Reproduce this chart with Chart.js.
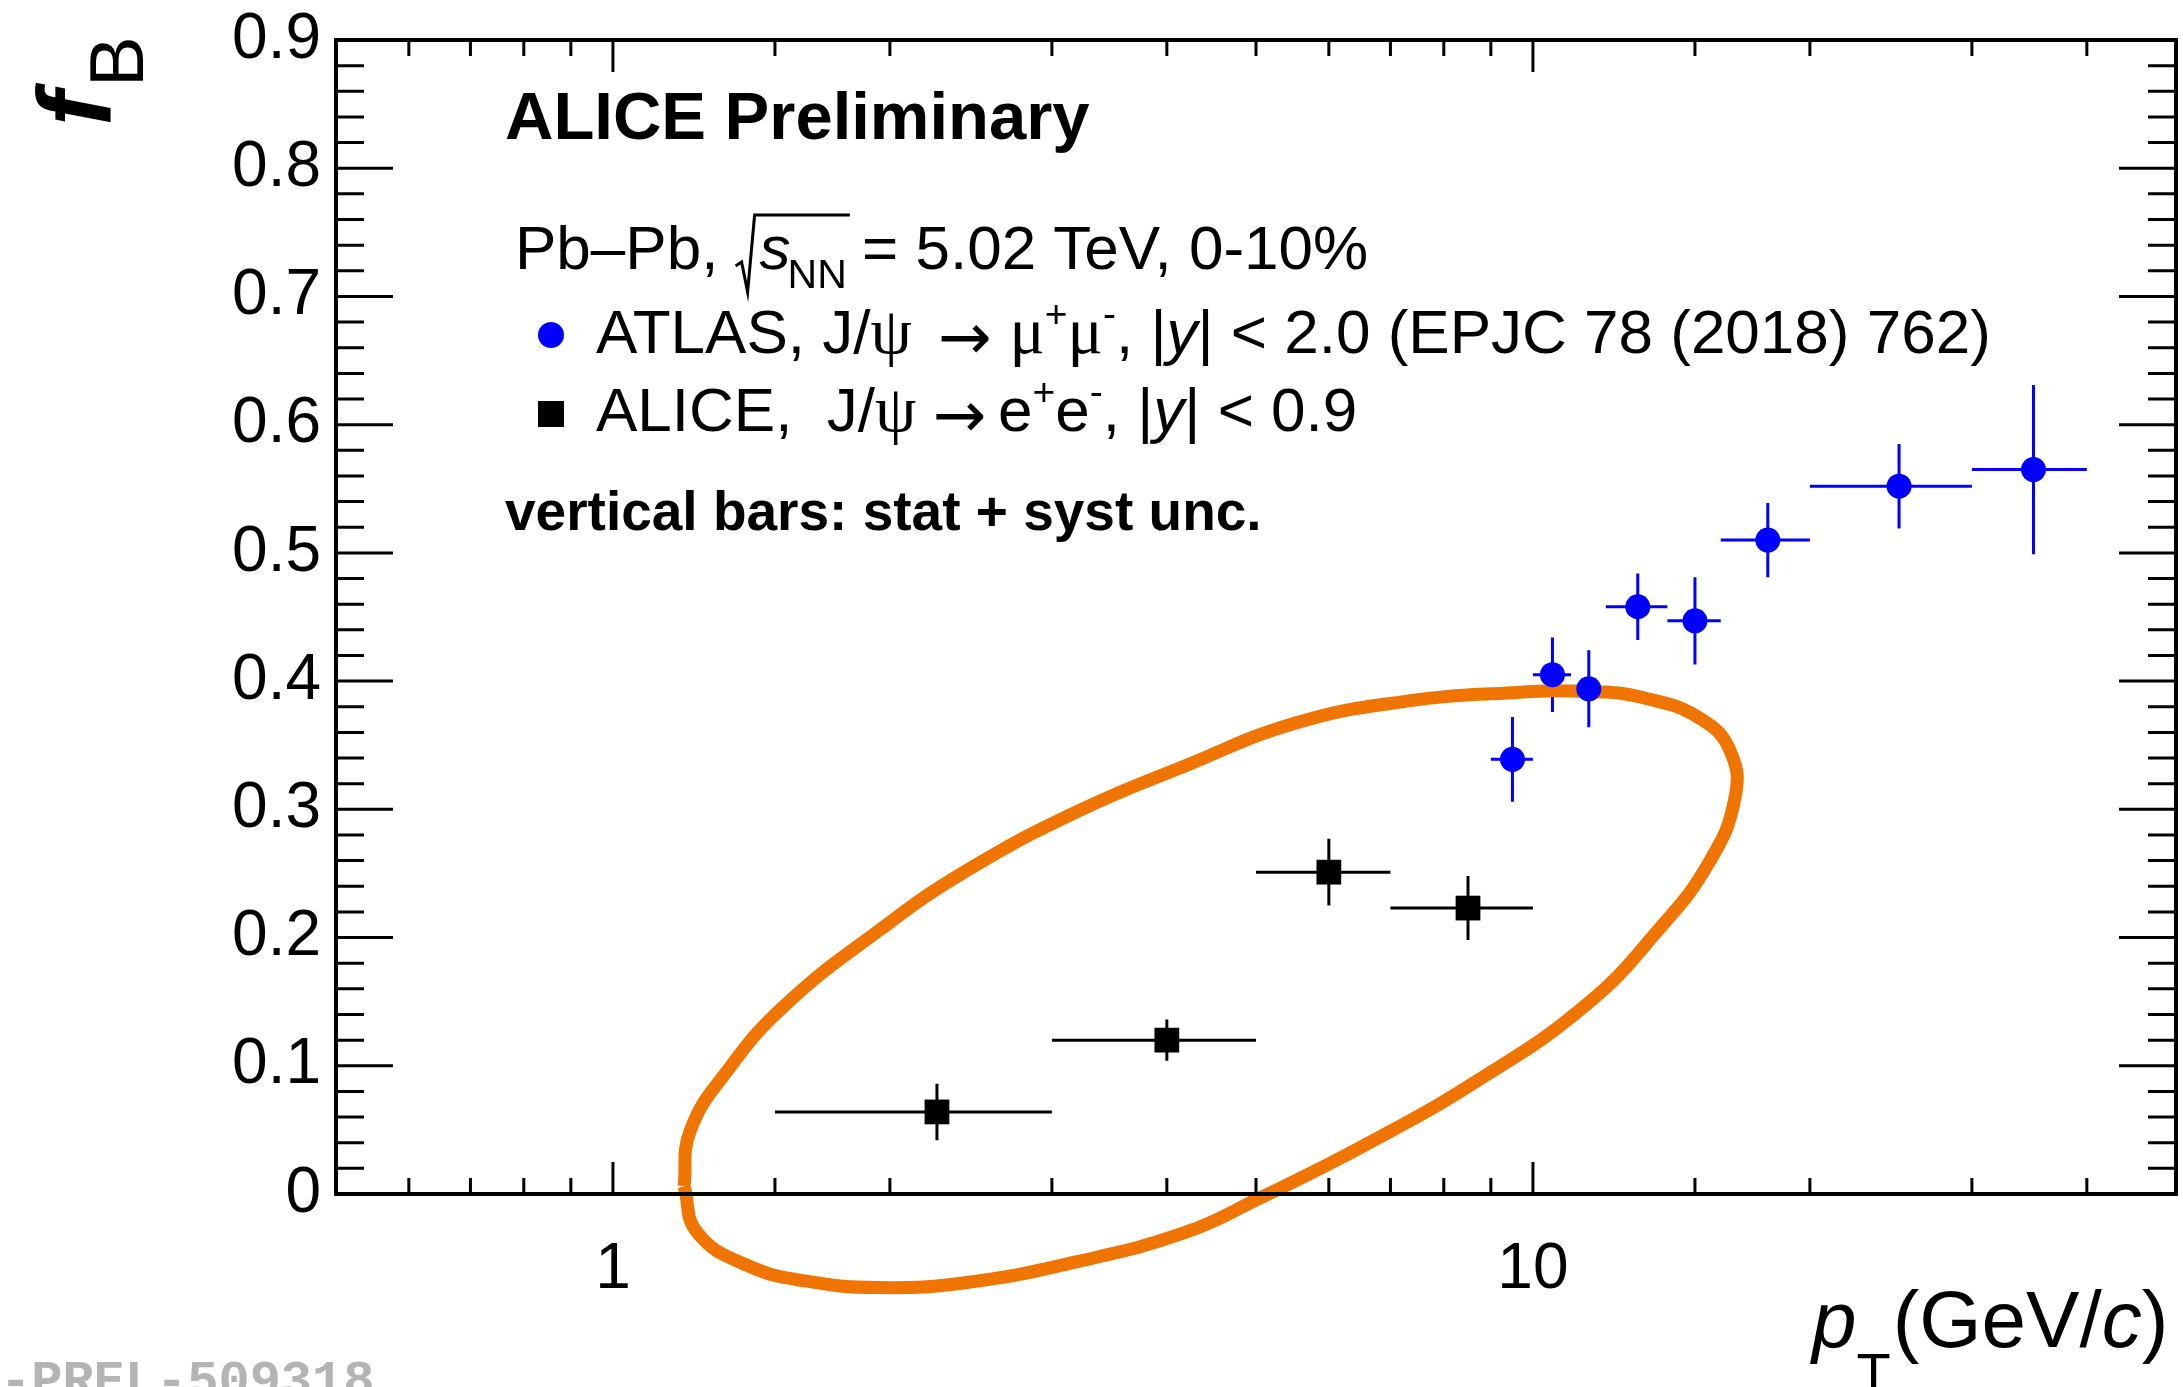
<!DOCTYPE html>
<html lang="en">
<head>
<meta charset="UTF-8">
<title>fB vs pT</title>
<style>
  html, body { margin: 0; padding: 0; background: #fff; }
  #fbChart { display: block; }
</style>
</head>
<body>
<canvas id="fbChart" width="2183" height="1387"></canvas>
<script src="https://cdn.jsdelivr.net/npm/chart.js@4.4.1/dist/chart.umd.min.js"></script>
<script>
  // ATLAS, J/psi -> mu+mu-, |y| < 2.0
  const atlasPt = [9.5, 10.5, 11.5, 13, 15, 18, 25, 35];
  const atlasPtLow = [9, 10, 11, 12, 14, 16, 20, 30];
  const atlasPtHigh = [10, 11, 12, 14, 16, 20, 30, 40];
  const atlasFb = [0.339, 0.405, 0.394, 0.458, 0.447, 0.510, 0.552, 0.565];
  const atlasErr = [0.033, 0.029, 0.030, 0.026, 0.034, 0.029, 0.033, 0.066];

  // ALICE, J/psi -> e+e-, |y| < 0.9
  const alicePt = [2.25, 4, 6, 8.5];
  const alicePtLow = [1.5, 3, 5, 7];
  const alicePtHigh = [3, 5, 7, 10];
  const aliceFb = [0.064, 0.120, 0.251, 0.223];
  const aliceErr = [0.022, 0.016, 0.026, 0.025];

  // hand drawn orange loop
  const loopPt = [1.195, 1.235, 1.403, 1.623, 1.947, 2.424, 3.185, 4.187, 5.02, 6.60, 8.68, 11.4,
    13.69, 15.55, 16.57, 16.42, 15.26, 13.19, 11.40, 9.50, 7.23, 5.50, 4.19, 3.19, 2.42, 1.95,
    1.537, 1.328, 1.213, 1.195];
  const loopFb = [0.006, -0.030, -0.056, -0.068, -0.073, -0.069, -0.053, -0.030, -0.004, 0.039, 0.088, 0.147,
    0.206, 0.259, 0.308, 0.344, 0.370, 0.387, 0.392, 0.391, 0.384, 0.367, 0.334, 0.298, 0.252, 0.206,
    0.147, 0.095, 0.049, 0.006];

  const xLabels = [1, 10];
  const yMinorStep = 0.02;

  const SANS = '"Liberation Sans", Arial, sans-serif';
  const SERIF = '"Liberation Serif", "Times New Roman", serif';
  const BLUE = '#0000ff';
  const ORANGE = '#f07400';

  function font(size, style, family) {
    return (style ? style + ' ' : '') + size + 'px ' + (family || SANS);
  }

  function toPoints(xs, ys) {
    return xs.map((v, i) => ({x: v, y: ys[i]}));
  }

  // draw a row of text pieces, each with its own font and baseline shift
  function drawRuns(ctx, x, y, runs) {
    runs.forEach((r) => {
      ctx.font = r.f;
      ctx.fillText(r.t, x, y + (r.dy || 0));
      x += ctx.measureText(r.t).width + (r.gap || 0);
    });
    return x;
  }

  function noPadding(s) {
    s.paddingTop = 0;
    s.paddingBottom = 0;
    s.paddingLeft = 0;
    s.paddingRight = 0;
  }

  const errorBars = {
    id: 'errorBars',
    beforeDatasetsDraw(chart) {
      const {ctx, scales: {x, y}} = chart;
      ctx.save();
      ctx.lineWidth = 3;
      chart.data.datasets.forEach((ds) => {
        if (!ds.xLow) return;
        ctx.strokeStyle = ds.backgroundColor;
        ds.data.forEach((p, i) => {
          const px = x.getPixelForValue(p.x);
          const py = y.getPixelForValue(p.y);
          ctx.beginPath();
          ctx.moveTo(x.getPixelForValue(ds.xLow[i]), py);
          ctx.lineTo(x.getPixelForValue(ds.xHigh[i]), py);
          ctx.moveTo(px, y.getPixelForValue(p.y - ds.yErr[i]));
          ctx.lineTo(px, y.getPixelForValue(p.y + ds.yErr[i]));
          ctx.stroke();
        });
      });
      ctx.restore();
    }
  };

  // ROOT style frame with inward ticks on all four sides
  const frame = {
    id: 'frame',
    afterDraw(chart) {
      const {ctx, chartArea: a, scales: {x, y}} = chart;
      ctx.save();
      ctx.strokeStyle = '#000';
      ctx.lineWidth = 3;
      ctx.beginPath();
      x.ticks.forEach((t) => {
        const v = t.value;
        if (v <= x.min * 1.0001 || v >= x.max * 0.9999) return;
        const px = x.getPixelForValue(v);
        const len = xLabels.some((l) => Math.abs(l - v) < 1e-6) ? 32 : 16;
        ctx.moveTo(px, a.bottom); ctx.lineTo(px, a.bottom - len);
        ctx.moveTo(px, a.top); ctx.lineTo(px, a.top + len);
      });
      const n = Math.round((y.max - y.min) / yMinorStep);
      for (let i = 1; i < n; i++) {
        const py = y.getPixelForValue(y.min + i * yMinorStep);
        const len = i % 5 === 0 ? 57 : 28;
        ctx.moveTo(a.left, py); ctx.lineTo(a.left + len, py);
        ctx.moveTo(a.right, py); ctx.lineTo(a.right - len, py);
      }
      ctx.stroke();
      ctx.lineWidth = 4;
      ctx.strokeRect(a.left, a.top, a.right - a.left, a.bottom - a.top);
      ctx.restore();
    }
  };

  const texts = {
    id: 'texts',
    afterDraw(chart) {
      const ctx = chart.ctx;
      ctx.save();
      ctx.fillStyle = '#000';
      ctx.textAlign = 'left';
      ctx.textBaseline = 'alphabetic';

      ctx.font = font(67, 'bold');
      ctx.fillText('ALICE Preliminary', 505, 139);

      // Pb-Pb line with square root
      const nt = font(62);
      ctx.font = nt;
      ctx.fillText('Pb\u2013Pb,', 515, 269);
      const sx = 515 + ctx.measureText('Pb\u2013Pb, ').width + 2;
      ctx.font = font(62, 'italic');
      ctx.fillText('s', sx + 22, 269);
      let ex = sx + 22 + ctx.measureText('s').width;
      ctx.font = font(41);
      ctx.fillText('NN', ex - 3, 288);
      ex += ctx.measureText('NN').width - 3;
      ctx.lineWidth = 3;
      ctx.strokeStyle = '#000';
      ctx.beginPath();
      ctx.moveTo(sx - 2, 266);
      ctx.lineTo(sx + 4, 262);
      ctx.lineTo(sx + 10, 292);
      ctx.lineTo(sx + 17, 215);
      ctx.lineTo(ex + 3, 215);
      ctx.stroke();
      ctx.font = nt;
      ctx.fillText(' = 5.02 TeV, 0-10%', ex - 2, 269);

      // legend
      ctx.fillStyle = BLUE;
      ctx.beginPath();
      ctx.arc(551, 335, 13, 0, Math.PI * 2);
      ctx.fill();
      ctx.fillStyle = '#000';
      ctx.fillRect(538, 401, 26, 26);

      const sup = font(39);
      const greek = font(66, '', SERIF);
      const arrow = font(64, '', '"DejaVu Sans", sans-serif');
      drawRuns(ctx, 596, 353, [
        {t: 'ATLAS, J/', f: nt},
        {t: '\u03c8', f: greek, gap: 26},
        {t: '\u2192', f: arrow, dy: 6, gap: 18},
        {t: '\u03bc', f: greek},
        {t: '+', f: sup, dy: -26},
        {t: '\u03bc', f: greek},
        {t: '-', f: sup, dy: -26},
        {t: ', |', f: nt},
        {t: 'y', f: font(62, 'italic')},
        {t: '| < 2.0 (EPJC 78 (2018) 762)', f: nt}
      ]);
      drawRuns(ctx, 596, 431, [
        {t: 'ALICE,  J/', f: nt},
        {t: '\u03c8', f: greek, gap: 16},
        {t: '\u2192', f: arrow, dy: 6, gap: 12},
        {t: 'e', f: nt},
        {t: '+', f: sup, dy: -26},
        {t: 'e', f: nt},
        {t: '-', f: sup, dy: -26},
        {t: ', |', f: nt},
        {t: 'y', f: font(62, 'italic')},
        {t: '| < 0.9', f: nt}
      ]);

      ctx.font = font(55, 'bold');
      ctx.fillText('vertical bars: stat + syst unc.', 505, 530);

      // x title
      drawRuns(ctx, 1812, 1347, [
        {t: 'p', f: font(80, 'italic')},
        {t: 'T', f: font(56), dy: 45, gap: 2},
        {t: '(GeV/', f: font(80)},
        {t: 'c', f: font(80, 'italic')},
        {t: ')', f: font(80)}
      ]);

      // y title, rotated
      ctx.save();
      ctx.rotate(-Math.PI / 2);
      ctx.font = font(104, 'italic bold');
      ctx.fillText('f', -126, 110);
      ctx.font = font(76);
      ctx.fillText('B', -87, 143);
      ctx.restore();

      // figure id, partly off the canvas
      ctx.font = font(52, 'bold', '"Liberation Mono", monospace');
      ctx.fillStyle = '#b4b4b4';
      const cw = ctx.measureText('A').width;
      ctx.fillText('ALI-PREL-509318', -3 * cw, 1396);
      ctx.restore();
    }
  };

  new Chart(document.getElementById('fbChart'), {
    type: 'scatter',
    data: {
      datasets: [
        {
          label: 'ATLAS',
          data: toPoints(atlasPt, atlasFb),
          xLow: atlasPtLow, xHigh: atlasPtHigh, yErr: atlasErr,
          pointStyle: 'circle', pointRadius: 12.5, borderWidth: 0,
          backgroundColor: BLUE, borderColor: BLUE,
          order: 0
        },
        {
          label: 'ALICE',
          data: toPoints(alicePt, aliceFb),
          xLow: alicePtLow, xHigh: alicePtHigh, yErr: aliceErr,
          pointStyle: 'rect', pointRadius: 17.5, borderWidth: 0,
          backgroundColor: '#000', borderColor: '#000',
          order: 1
        },
        {
          label: 'loop',
          data: toPoints(loopPt, loopFb),
          showLine: true, pointRadius: 0, tension: 0.45,
          borderColor: ORANGE, backgroundColor: ORANGE, borderWidth: 13,
          clip: false,
          order: 5
        }
      ]
    },
    options: {
      responsive: false,
      animation: false,
      devicePixelRatio: 1,
      events: [],
      layout: {autoPadding: false, padding: {top: 40, right: 7, left: 0, bottom: 0}},
      plugins: {legend: {display: false}, tooltip: {enabled: false}},
      font: {family: SANS},
      scales: {
        x: {
          type: 'logarithmic',
          min: 0.5,
          max: 50,
          grid: {display: false, drawTicks: false},
          border: {display: false},
          ticks: {
            autoSkip: false, maxRotation: 0, padding: 38, color: '#000',
            font: {size: 64, family: SANS},
            callback: (v) => xLabels.some((l) => Math.abs(l - v) < 1e-6) ? String(Math.round(v)) : ''
          },
          afterFit: (s) => { s.height = 193; noPadding(s); }
        },
        y: {
          min: 0,
          max: 0.9,
          grid: {display: false, drawTicks: false},
          border: {display: false},
          ticks: {
            stepSize: 0.1, padding: 15, color: '#000',
            font: {size: 64, family: SANS},
            callback: (v) => String(+v.toFixed(1))
          },
          afterFit: (s) => { s.width = 336; noPadding(s); }
        }
      }
    },
    plugins: [errorBars, frame, texts]
  });
</script>
</body>
</html>
